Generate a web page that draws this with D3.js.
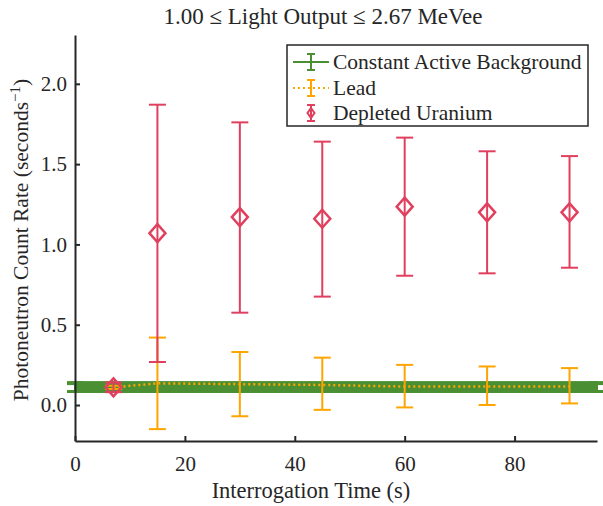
<!DOCTYPE html>
<html><head><meta charset="utf-8">
<script src="https://cdn.jsdelivr.net/npm/d3@7"></script>
<style>body{margin:0;background:#fff}svg{display:block}text{font-family:"Liberation Serif","DejaVu Serif",serif;fill:#262626}</style>
</head><body><svg id="c" width="603" height="506"></svg>
<script>
const titleText = "1.00 \u2264 Light Output \u2264 2.67 MeVee";
const xTicks = [0, 20, 40, 60, 80];
const yTicks = [0.0, 0.5, 1.0, 1.5, 2.0];
const bgX = [0, 95];
const bgValue = 0.112;
const bgErr = 0.037;
const leadX = [7, 15, 30, 45, 60, 75, 90];
const leadY = [0.11, 0.135, 0.13, 0.125, 0.115, 0.115, 0.115];
const leadLo = [0.10, -0.15, -0.07, -0.03, -0.015, 0.0, 0.01];
const leadHi = [0.12, 0.42, 0.33, 0.295, 0.25, 0.24, 0.23];
const duX = [7, 15, 30, 45, 60, 75, 90];
const duY = [0.11, 1.07, 1.17, 1.16, 1.235, 1.20, 1.20];
const duLo = [0.08, 0.268, 0.575, 0.675, 0.805, 0.82, 0.855];
const duHi = [0.14, 1.87, 1.76, 1.64, 1.665, 1.58, 1.55];
const legendLabels = ["Constant Active Background", "Lead", "Depleted Uranium"];
const colors = {bg: "#4a8f32", lead: "#ffa500", du: "#e0405e"};

const svg = d3.select("#c");
const m = {l: 75, r: 6, t: 35, b: 65};
const W = 603, H = 506;
const x = d3.scaleLinear().domain([0, 95]).range([m.l, W - m.r]);
const y = d3.scaleLinear().domain([-0.224, 2.304]).range([H - m.b, m.t]);

// constant background band
const g = svg.append("g");
g.append("rect").attr("x", x(bgX[0])).attr("width", x(bgX[1]) - x(bgX[0]))
  .attr("y", y(bgValue + bgErr)).attr("height", y(bgValue - bgErr) - y(bgValue + bgErr))
  .attr("fill", colors.bg);
bgX.forEach(v => {
  g.append("line").attr("x1", x(v) - 8).attr("x2", x(v) + 8)
    .attr("y1", y(bgValue + bgErr) + 2).attr("y2", y(bgValue + bgErr) + 2)
    .attr("stroke", colors.bg).attr("stroke-width", 4);
  g.append("line").attr("x1", x(v) - 8).attr("x2", x(v) + 8)
    .attr("y1", y(bgValue - bgErr) - 1.5).attr("y2", y(bgValue - bgErr) - 1.5)
    .attr("stroke", colors.bg).attr("stroke-width", 3);
  g.append("line").attr("x1", x(v)).attr("x2", x(v))
    .attr("y1", y(bgValue + bgErr)).attr("y2", y(bgValue - bgErr))
    .attr("stroke", colors.bg).attr("stroke-width", 2);
});

function errorbars(xs, lo, hi, color) {
  const e = svg.append("g").attr("stroke", color).attr("stroke-width", 2).attr("fill", "none");
  xs.forEach((v, i) => {
    e.append("line").attr("x1", x(v)).attr("x2", x(v)).attr("y1", y(lo[i])).attr("y2", y(hi[i]));
    [lo[i], hi[i]].forEach(w => e.append("line").attr("x1", x(v) - 8.5).attr("x2", x(v) + 8.5).attr("y1", y(w)).attr("y2", y(w)));
  });
}
// lead
errorbars(leadX, leadLo, leadHi, colors.lead);
svg.append("path").datum(leadX.map((v, i) => [v, leadY[i]]))
  .attr("d", d3.line().x(d => x(d[0])).y(d => y(d[1])))
  .attr("fill", "none").attr("stroke", colors.lead).attr("stroke-width", 2.5).attr("stroke-dasharray", "2,3");
// DU
errorbars(duX, duLo, duHi, colors.du);
svg.append("g").selectAll("path").data(duX.map((v, i) => [v, duY[i]])).join("path")
  .attr("d", d => `M${x(d[0])},${y(d[1]) - 9}L${x(d[0]) + 8},${y(d[1])}L${x(d[0])},${y(d[1]) + 9}L${x(d[0]) - 8},${y(d[1])}Z`)
  .attr("fill", "none").attr("stroke", colors.du).attr("stroke-width", 2.5);

// axes
const axisColor = "#262626";
const xa = svg.append("g").attr("transform", `translate(0,${H - m.b})`)
  .call(d3.axisBottom(x).tickValues(xTicks).tickSizeInner(-5).tickSizeOuter(0).tickPadding(15).tickFormat(d3.format("d")));
const ya = svg.append("g").attr("transform", `translate(${m.l},0)`)
  .call(d3.axisLeft(y).tickValues(yTicks).tickSizeInner(-5).tickSizeOuter(0).tickPadding(8).tickFormat(d3.format(".1f")));
[xa, ya].forEach(a => {
  a.select(".domain").attr("stroke", axisColor).attr("stroke-width", 2);
  a.selectAll(".tick line").attr("stroke", axisColor).attr("stroke-width", 2);
  a.selectAll("text").attr("font-size", 21).attr("fill", "#262626").attr("font-family", "Liberation Serif, serif");
});

// title and labels
svg.append("text").attr("x", 323).attr("y", 24).attr("text-anchor", "middle").attr("font-size", 23).text(titleText);
svg.append("text").attr("x", 311).attr("y", 498).attr("text-anchor", "middle").attr("font-size", 22.5).text("Interrogation Time (s)");
const yl = svg.append("text").attr("transform", "translate(28,240) rotate(-90)").attr("text-anchor", "middle").attr("font-size", 21.5);
yl.append("tspan").text("Photoneutron Count Rate (seconds");
yl.append("tspan").attr("dy", -8).attr("font-size", 15).text("\u22121");
yl.append("tspan").attr("dy", 8).text(")");

// legend
const lg = svg.append("g").attr("transform", "translate(287,45)");
lg.append("rect").attr("width", 301).attr("height", 81).attr("fill", "#fff").attr("stroke", "#262626").attr("stroke-width", 1.5);
const rows = [17, 43, 68];
lg.append("line").attr("x1", 6).attr("x2", 42).attr("y1", rows[0]).attr("y2", rows[0]).attr("stroke", colors.bg).attr("stroke-width", 2);
lg.append("line").attr("x1", 6).attr("x2", 42).attr("y1", rows[1]).attr("y2", rows[1]).attr("stroke", colors.lead).attr("stroke-width", 2).attr("stroke-dasharray", "2,3");
[[0, colors.bg], [1, colors.lead], [2, colors.du]].forEach(([i, c]) => {
  const cy = rows[i];
  lg.append("line").attr("x1", 24).attr("x2", 24).attr("y1", cy - 8).attr("y2", cy + 8).attr("stroke", c).attr("stroke-width", 2);
  [cy - 8, cy + 8].forEach(w => lg.append("line").attr("x1", 20).attr("x2", 28).attr("y1", w).attr("y2", w).attr("stroke", c).attr("stroke-width", 2));
});
lg.append("path").attr("d", `M24,${rows[2] - 5}L27.5,${rows[2]}L24,${rows[2] + 5}L20.5,${rows[2]}Z`).attr("fill", "none").attr("stroke", colors.du).attr("stroke-width", 2);
legendLabels.forEach((t, i) => lg.append("text").attr("x", 46).attr("y", rows[i] + 7).attr("font-size", 21.5).text(t));
</script></body></html>
